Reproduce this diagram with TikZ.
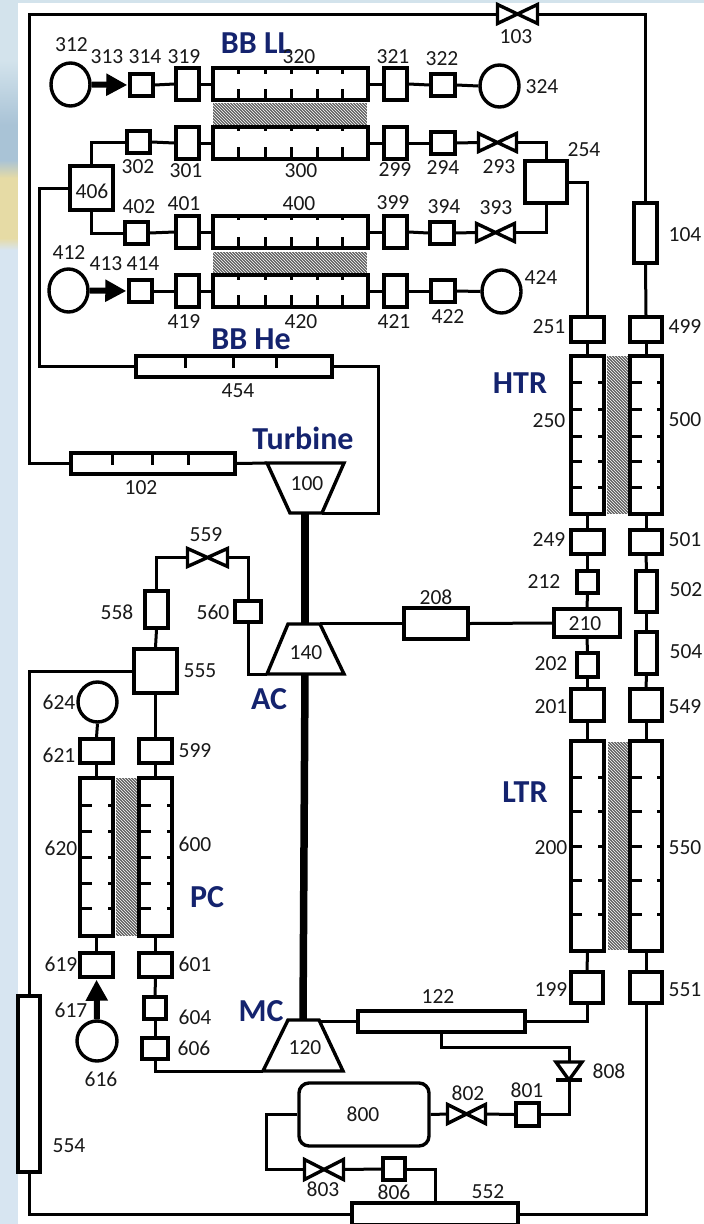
\documentclass[tikz,border=0pt]{standalone}
\usepackage{fontspec}
\setmainfont{Carlito}
\usetikzlibrary{arrows.meta,patterns,shapes.geometric}
\definecolor{navy}{HTML}{14236E}
\definecolor{bgtop}{HTML}{D3E3EC}
\definecolor{bgmid}{HTML}{A9C3D6}
\definecolor{bgsand}{HTML}{E6DBA5}
\definecolor{bglow}{HTML}{D7E5F1}
\tikzset{
  box/.style={draw=black,fill=white,line width=3.4pt,rectangle,inner sep=0pt},
  rbox/.style={box,rounded corners=10pt},
  circ/.style={box,ellipse},
  ghost/.style={rectangle,inner sep=0pt,outer sep=0pt},
  hatch/.style={rectangle,inner sep=0pt,outer sep=0pt,fill=black!62,postaction={pattern=north west lines,pattern color=white}},
  wire/.style={line width=3pt,line join=miter},
  tick/.style={line width=3pt},
  shape line/.style={line width=3.4pt,fill=white,line join=miter},
  shaft/.style={line width=7.5pt},
  feed/.style={line width=6pt,-{Triangle[length=21pt,width=21pt]}},
  lab/.style={font=\fontsize{21.5}{21.5}\selectfont,text=black!90,inner sep=0pt},
  head/.style={font=\fontsize{32}{32}\selectfont\bfseries,text=navy,inner sep=0pt},
}
\newcommand\bx[6][box]{\node[#1,minimum width={#5-#3},minimum height={#6-#4}] (#2) at ({(#3+#5)/2},{(#4+#6)/2}) {};}
\newcommand\hb[5]{\node[hatch,minimum width={#4-#2},minimum height={#5-#3}] (#1) at ({(#2+#4)/2},{(#3+#5)/2}) {};}
\newcommand\lb[3]{\node[lab] (l#1) at (#2,#3) {#1};}
\newcommand\hd[4]{\node[head] (#1) at (#3,#4) {#2};}
\newcommand\valve[5]{\node[ghost,minimum width={#4-#2-3},minimum height={#5-#3-3}] (#1) at ({(#2+#4)/2},{(#3+#5)/2}) {};
  \draw[shape line] (#1.north west)--(#1.south east)--(#1.north east)--(#1.south west)--cycle;}
\newcommand\hticks[4]{\foreach \t in {#2}{\draw[tick] (\t,0 |- #1.north) -- ++(0,#3); \draw[tick] (\t,0 |- #1.south) -- ++(0,-#4);}}
\newcommand\vticks[4]{\foreach \t in {#2}{\draw[tick] (#1.west |- 0,\t) -- ++(#3,0); \draw[tick] (#1.east |- 0,\t) -- ++(-#4,0);}}
\begin{document}
\begin{tikzpicture}[x=1pt,y=-1pt]
\useasboundingbox (0,0) rectangle (704,1224);
% backdrop
\fill[bgtop] (0,0) rectangle (704,1224);
\fill[top color=bgtop,bottom color=bgmid] (0,60) rectangle (18,125);
\fill[bgmid] (0,125) rectangle (18,160);
\fill[top color=bgmid,bottom color=bgsand] (0,160) rectangle (18,178);
\fill[bgsand] (0,178) rectangle (18,238);
\fill[top color=bgsand,bottom color=bglow] (0,238) rectangle (18,250);
\fill[bglow] (0,250) rectangle (18,1224);
\fill[white] (18,3) rectangle (704,1224);
% hatched walls
\hb{h3}{213}{103}{367}{126}
\hb{h4}{213}{252}{367}{275}
\hb{hH}{607}{356}{629}{514}
\hb{hL}{608}{742}{628}{950}
\hb{hP}{116}{778}{138}{936}
% BB LL row
\bx[circ]{n312}{51}{63}{90}{106}
\bx{n314}{130}{74}{153}{96}
\bx{n319}{176}{68}{199}{100}
\bx{n320}{213}{68}{368}{100}
\bx{n321}{384}{68}{407}{100}
\bx{n322}{431}{74}{455}{96}
\bx[circ]{n324}{480}{65}{519}{107}
\hticks{n320}{238,265,291,317,342}{8}{13}
% 300 row
\bx{n302}{127}{131}{150}{153}
\bx{n301}{176}{127}{199}{159}
\bx{n300}{213}{127}{368}{159}
\bx{n299}{384}{127}{407}{159}
\bx{n294}{431}{132}{455}{154}
\valve{v293}{477}{132}{518}{153}
\hticks{n300}{238,265,291,317,342}{6}{14}
\bx{n254}{525}{161}{567}{203}
\bx{n406}{70}{166}{113}{210}
% 400 row
\bx{n402}{125}{222}{148}{244}
\bx{n401}{176}{216}{199}{248}
\bx{n400}{213}{216}{368}{248}
\bx{n399}{384}{216}{407}{248}
\bx{n394}{430}{222}{454}{244}
\valve{v393}{475}{222}{516}{243}
\hticks{n400}{238,265,291,317,342}{6}{13}
% 420 row
\bx[circ]{n412}{49}{269}{88}{312}
\bx{n414}{129}{280}{152}{302}
\bx{n419}{176}{275}{199}{307}
\bx{n420}{213}{275}{368}{307}
\bx{n421}{384}{275}{407}{307}
\bx{n422}{431}{280}{455}{302}
\bx[circ]{n424}{482}{270}{521}{313}
\hticks{n420}{238,265,291,317,342}{7}{14}
% frame pieces
\valve{v103}{496}{3}{539}{25}
\bx{n104}{634}{203}{657}{263}
% long manifolds
\bx{n454}{136}{356}{332}{377}
\draw[tick] (185,0 |- n454.north) -- ++(0,14) (233,0 |- n454.north) -- ++(0,14) (276,0 |- n454.north) -- ++(0,14);
\bx{n102}{71}{453}{235}{474}
\draw[tick] (112,0 |- n102.north) -- ++(0,14) (152,0 |- n102.north) -- ++(0,14) (188,0 |- n102.north) -- ++(0,14);
% HTR
\bx{n251}{571}{317}{604}{342}
\bx{n499}{630}{317}{662}{342}
\bx{n250}{571}{356}{604}{514}
\bx{n500}{630}{356}{662}{514}
\vticks{n250}{382,409,436,461,487}{13}{8}
\vticks{n500}{382,409,436,461,487}{14}{7}
\bx{n249}{571}{530}{604}{554}
\bx{n501}{630}{530}{662}{554}
\bx{n212}{577}{571}{598}{593}
\bx{n502}{636}{571}{657}{612}
\bx{n210}{554}{609}{620}{637}
\bx{n208}{404}{608}{468}{639}
\bx{n504}{636}{632}{657}{674}
\bx{n202}{577}{653}{598}{677}
\bx{n201}{571}{689}{604}{721}
\bx{n549}{630}{689}{662}{721}
% LTR
\bx{n200}{571}{741}{604}{951}
\bx{n550}{630}{741}{662}{951}
\vticks{n200}{777,811,846,880,914}{13}{8}
\vticks{n550}{777,811,846,880,914}{14}{7}
\bx{n199}{571}{972}{603}{1003}
\bx{n551}{630}{972}{662}{1003}
\bx{n122}{358}{1011}{525}{1032}
% AC loop
\valve{v559}{186}{547}{229}{568}
\bx{n558}{145}{591}{168}{628}
\bx{n560}{235}{601}{261}{622}
\bx{n555}{134}{649}{177}{693}
% PC
\bx[circ]{n624}{78}{682}{117}{722}
\bx{n621}{80}{739}{113}{763}
\bx{n599}{139}{739}{172}{763}
\bx{n620}{80}{778}{113}{936}
\bx{n600}{139}{778}{172}{936}
\vticks{n620}{805,831,857,883,908}{14}{7}
\vticks{n600}{805,831,857,883,908}{14}{7}
\bx{n619}{80}{953}{113}{977}
\bx{n601}{139}{953}{172}{977}
\bx{n604}{144}{997}{166}{1019}
\bx{n606}{142}{1038}{168}{1059}
\bx[circ]{n616}{77}{1021}{117}{1061}
\bx{n554}{18}{996}{40}{1172}
% bottom
\bx[rbox]{n800}{299}{1083}{429}{1146}
\valve{v802}{446}{1103}{487}{1125}
\bx{n801}{516}{1103}{539}{1126}
\valve{v803}{303}{1158}{345}{1181}
\bx{n806}{383}{1158}{405}{1180}
\bx{n552}{352}{1203}{518}{1225}
\node[ghost,minimum width=26pt,minimum height=18pt] (d808) at (569,1071) {};
\draw[shape line] (d808.north west) -- (d808.north east) -- (d808.south) -- cycle;
\draw[line width=3.4pt] (d808.south west) -- (d808.south east);
% turbomachines
\coordinate (tl) at (267,463); \coordinate (tr) at (344,463); \coordinate (br) at (322,513); \coordinate (bl) at (290,513);
\coordinate (actl) at (288,624); \coordinate (actr) at (320,624); \coordinate (acbr) at (344,674); \coordinate (acbl) at (267,674);
\coordinate (mctl) at (288,1020); \coordinate (mctr) at (319,1020); \coordinate (mcbr) at (343,1071); \coordinate (mcbl) at (263,1071);
\draw[shaft] (305,513) -- (305,624);
\draw[shaft] (305,674) -- (303,1020);
\draw[shape line] (tl) -- (tr) -- (br) -- (bl) -- cycle;
\draw[shape line] (actl) -- (actr) -- (acbr) -- (acbl) -- cycle;
\draw[shape line] (mctl) -- (mctr) -- (mcbr) -- (mcbl) -- cycle;
% way points
\coordinate (ftl) at (29,14); \coordinate (ftr) at (645.5,14); \coordinate (fbl) at (29,1214); \coordinate (fbr) at (646,1214);
\coordinate (fl) at (29,463.5);
\coordinate (w406) at (39,188); \coordinate (w454) at (39,366.5);
\coordinate (w293) at (546,142.5); \coordinate (w393) at (546,232.5);
\coordinate (w254) at (587.5,182);
\coordinate (w454r) at (378,366.5);
\coordinate (w559l) at (156.5,557.5); \coordinate (w559r) at (248,557.5);
\coordinate (w555) at (29,671);
\coordinate (w122) at (587,1021.5);
\coordinate (w122b) at (441.5,1047); \coordinate (w808) at (569,1047);
\coordinate (w801) at (569,1114.5);
\coordinate (w800) at (266,1114.5); \coordinate (w803) at (266,1169.5);
\coordinate (w806) at (435,1169);
\coordinate (w606) at (155,1071);
\coordinate (w560) at (248,674);
% rows
\draw[feed,shorten >=1pt] (n312.east) -- (n314.west);
\draw[wire] (n314.east) -- (n319.west);
\draw[wire] (n319.east) -- (n320.west);
\draw[wire] (n320.east) -- (n321.west);
\draw[wire] (n321.east) -- (n322.west);
\draw[wire] (n322.east) -- (n324.west);
\draw[wire] (n406.north) |- (n302.west);
\draw[wire] (n302.east) -- (n301.west);
\draw[wire] (n301.east) -- (n300.west);
\draw[wire] (n300.east) -- (n299.west);
\draw[wire] (n299.east) -- (n294.west);
\draw[wire] (n294.east) -- (v293.west);
\draw[wire] (v293.east) -- (w293) -- (n254.north);
\draw[wire] (n406.south) |- (n402.west);
\draw[wire] (n402.east) -- (n401.west);
\draw[wire] (n401.east) -- (n400.west);
\draw[wire] (n400.east) -- (n399.west);
\draw[wire] (n399.east) -- (n394.west);
\draw[wire] (n394.east) -- (v393.west);
\draw[wire] (v393.east) -- (w393) -- (n254.south);
\draw[feed,shorten >=1pt] (n412.east) -- (n414.west);
\draw[wire] (n414.east) -- (n419.west);
\draw[wire] (n419.east) -- (n420.west);
\draw[wire] (n420.east) -- (n421.west);
\draw[wire] (n421.east) -- (n422.west);
\draw[wire] (n422.east) -- (n424.west);
% frame
\draw[wire] (n102.west) -- (fl) -- (ftl) -- (v103.west);
\draw[wire] (v103.east) -- (ftr) -- (n104.north);
\draw[wire] (n104.south) -- (n499.north);
\draw[wire] (n406.west) -- (w406) -- (w454) -- (n454.west);
\draw[wire] (n454.east) -- (w454r) |- (br);
\draw[wire] (n102.east) -- (tl);
\draw[wire] (n254.east) -- (w254) -- (n251.north);
% HTR / LTR columns
\draw[wire] (n251.south) -- (n250.north);
\draw[wire] (n499.south) -- (n500.north);
\draw[wire] (n250.south) -- (n249.north);
\draw[wire] (n500.south) -- (n501.north);
\draw[wire] (n249.south) -- (n212.north);
\draw[wire] (n501.south) -- (n502.north);
\draw[wire] (n212.south) -- (n210.north);
\draw[wire] (n502.south) -- (n504.north);
\draw[wire] (n210.south) -- (n202.north);
\draw[wire] (n202.south) -- (n201.north);
\draw[wire] (n504.south) -- (n549.north);
\draw[wire] (n201.south) -- (n200.north);
\draw[wire] (n549.south) -- (n550.north);
\draw[wire] (n200.south) -- (n199.north);
\draw[wire] (n550.south) -- (n551.north);
\draw[wire] (n199.south) -- (w122) -- (n122.east);
\draw[wire] (n122.west) -- (n122.west -| mctr);
\draw[wire] (n551.south) -- (fbr) -- (n552.east);
\draw[wire] (n208.west) -- (n208.west -| actr);
\draw[wire] (n208.east) -- (n210.west);
% AC / PC
\draw[wire] (acbl) -- (w560) -- (n560.south);
\draw[wire] (n560.north) -- (w559r) -- (v559.east);
\draw[wire] (v559.west) -- (w559l) -- (n558.north);
\draw[wire] (n558.south) -- (n555.north);
\draw[wire] (n555.west) -- (w555) -- (n554.north);
\draw[wire] (n554.south) -- (fbl) -- (n552.west);
\draw[wire] (n555.south) -- (n599.north);
\draw[wire] (n599.south) -- (n600.north);
\draw[wire] (n600.south) -- (n601.north);
\draw[wire] (n601.south) -- (n604.north);
\draw[wire] (n604.south) -- (n606.north);
\draw[wire] (n606.south) -- (w606) -- (mcbl);
\draw[wire] (n624.south) -- (n621.north);
\draw[wire] (n621.south) -- (n620.north);
\draw[wire] (n620.south) -- (n619.north);
\draw[feed,shorten >=1pt] (n616.north) -- (n619.south);
% charge loop
\draw[wire] (n122.south) -- (w122b) -- (w808) -- (d808.north);
\draw[wire] (d808.south) -- (w801) -- (n801.east);
\draw[wire] (n801.west) -- (v802.east);
\draw[wire] (v802.west) -- (n800.east);
\draw[wire] (n800.west) -- (w800) -- (w803) -- (v803.west);
\draw[wire] (v803.east) -- (n806.west);
\draw[wire] (n806.east) -- (w806) -- (n552.north);
% labels
\hd{hBBLL}{BB LL}{256}{43}
\hd{hBBHe}{BB He}{251}{339}
\hd{hTurb}{Turbine}{303}{438}
\hd{hHTR}{HTR}{520}{383}
\hd{hLTR}{LTR}{525}{792}
\hd{hAC}{AC}{269}{699}
\hd{hPC}{PC}{207}{897}
\hd{hMC}{MC}{261}{1011}
\lb{312}{71.5}{45} \lb{313}{107}{57} \lb{314}{145}{57} \lb{319}{184}{57} \lb{320}{299}{57}
\lb{321}{393}{57} \lb{322}{442}{59} \lb{324}{542}{87} \lb{103}{516}{37}
\lb{302}{138}{167} \lb{301}{186}{171} \lb{300}{301}{171} \lb{299}{395}{170} \lb{294}{443}{168} \lb{293}{499}{167}
\lb{254}{584}{150} \lb{406}{92}{191}
\lb{402}{139}{207} \lb{401}{184}{204} \lb{400}{299}{204} \lb{399}{393}{203} \lb{394}{444}{207} \lb{393}{496}{208}
\lb{104}{685}{235}
\lb{412}{69}{253} \lb{413}{106}{264} \lb{414}{143}{264} \lb{424}{541}{278}
\lb{419}{184}{322} \lb{420}{301}{322} \lb{421}{394}{322} \lb{422}{448}{317}
\lb{251}{549}{327} \lb{499}{685}{327}
\lb{454}{238}{391} \lb{102}{141}{488} \lb{100}{307}{484}
\lb{250}{549}{421} \lb{500}{685}{420} \lb{249}{549}{540} \lb{501}{685}{540}
\lb{212}{544}{582} \lb{502}{686}{590} \lb{208}{436}{597} \lb{210}{585}{624} \lb{202}{551}{664} \lb{504}{686}{652}
\lb{201}{551}{707} \lb{549}{685}{707}
\lb{559}{206}{535} \lb{558}{117}{612} \lb{560}{213}{612} \lb{140}{306}{653} \lb{555}{200}{671}
\lb{624}{59}{702} \lb{621}{59}{755} \lb{599}{195}{751} \lb{620}{61}{848} \lb{600}{195}{844}
\lb{619}{61}{964} \lb{601}{195}{964} \lb{617}{71}{1010} \lb{604}{195}{1017} \lb{606}{194}{1048} \lb{616}{101}{1079} \lb{554}{69}{1146}
\lb{200}{551}{848} \lb{550}{685}{848} \lb{199}{551}{990} \lb{551}{685}{990} \lb{122}{438}{997}
\lb{120}{305}{1048} \lb{808}{609}{1071} \lb{802}{468}{1093} \lb{801}{527}{1090} \lb{800}{363}{1114}
\lb{803}{323}{1189} \lb{806}{394}{1192} \lb{552}{488}{1192}
\end{tikzpicture}
\end{document}
